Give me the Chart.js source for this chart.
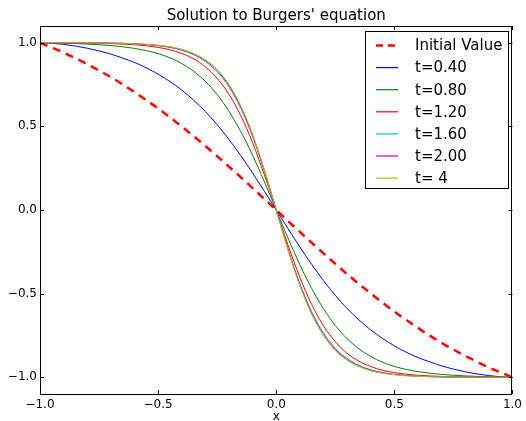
<!DOCTYPE html>
<html>
<head>
<meta charset="utf-8">
<script src="https://cdn.jsdelivr.net/npm/chart.js@4.4.1/dist/chart.umd.min.js"></script>
<style>
  html, body { margin: 0; padding: 0; background: #ffffff; }
  #wrap { width: 526px; height: 421px; position: relative; }
</style>
</head>
<body>
<div id="wrap"><canvas id="burgers"></canvas></div>
<script>
// x grid, -1 .. 1 step 0.05
const xs = [-1, -0.95, -0.9, -0.85, -0.8, -0.75, -0.7, -0.65, -0.6, -0.55, -0.5,
    -0.45, -0.4, -0.35, -0.3, -0.25, -0.2, -0.15, -0.1, -0.05, 0,
    0.05, 0.1, 0.15, 0.2, 0.25, 0.3, 0.35, 0.4, 0.45, 0.5,
    0.55, 0.6, 0.65, 0.7, 0.75, 0.8, 0.85, 0.9, 0.95, 1];

const initialValue = [1.000, 0.971, 0.941, 0.907, 0.872, 0.834, 0.794, 0.751, 0.705, 0.657, 0.607,
    0.554, 0.499, 0.442, 0.383, 0.322, 0.259, 0.196, 0.131, 0.066, 0,
    -0.066, -0.131, -0.196, -0.259, -0.322, -0.383, -0.442, -0.499, -0.554, -0.607,
    -0.657, -0.705, -0.751, -0.794, -0.834, -0.872, -0.907, -0.941, -0.971, -1.000];

const u040 = [1.000, 0.997, 0.990, 0.980, 0.967, 0.951, 0.932, 0.908, 0.882, 0.850, 0.812,
    0.768, 0.717, 0.657, 0.589, 0.510, 0.422, 0.325, 0.221, 0.112, 0,
    -0.112, -0.221, -0.325, -0.422, -0.510, -0.589, -0.657, -0.717, -0.768, -0.812,
    -0.850, -0.882, -0.908, -0.932, -0.951, -0.967, -0.980, -0.990, -0.997, -1.000];

const u080 = [1.000, 0.999, 0.997, 0.995, 0.992, 0.988, 0.983, 0.976, 0.966, 0.953, 0.935,
    0.910, 0.876, 0.830, 0.769, 0.690, 0.590, 0.469, 0.327, 0.168, 0,
    -0.168, -0.327, -0.469, -0.590, -0.690, -0.769, -0.830, -0.876, -0.910, -0.935,
    -0.953, -0.966, -0.976, -0.983, -0.988, -0.992, -0.995, -0.997, -0.999, -1.000];

const u120 = [1.000, 1.000, 0.999, 0.999, 0.998, 0.997, 0.995, 0.992, 0.988, 0.982, 0.972,
    0.958, 0.936, 0.904, 0.856, 0.787, 0.692, 0.564, 0.402, 0.210, 0,
    -0.210, -0.402, -0.564, -0.692, -0.787, -0.856, -0.904, -0.936, -0.958, -0.972,
    -0.982, -0.988, -0.992, -0.995, -0.997, -0.998, -0.999, -0.999, -1.000, -1.000];

const u160 = [1.000, 1.000, 1.000, 1.000, 0.999, 0.998, 0.997, 0.996, 0.993, 0.989, 0.982,
    0.971, 0.955, 0.928, 0.887, 0.826, 0.735, 0.607, 0.438, 0.231, 0,
    -0.231, -0.438, -0.607, -0.735, -0.826, -0.887, -0.928, -0.955, -0.971, -0.982,
    -0.989, -0.993, -0.996, -0.997, -0.998, -0.999, -1.000, -1.000, -1.000, -1.000];

const u200 = [1.000, 1.000, 1.000, 1.000, 0.999, 0.999, 0.998, 0.996, 0.994, 0.990, 0.984,
    0.974, 0.958, 0.933, 0.894, 0.834, 0.745, 0.617, 0.447, 0.236, 0,
    -0.236, -0.447, -0.617, -0.745, -0.834, -0.894, -0.933, -0.958, -0.974, -0.984,
    -0.990, -0.994, -0.996, -0.998, -0.999, -0.999, -1.000, -1.000, -1.000, -1.000];

const u400 = [1.000, 1.000, 1.000, 1.000, 0.999, 0.999, 0.998, 0.997, 0.994, 0.991, 0.985,
    0.976, 0.961, 0.936, 0.898, 0.840, 0.751, 0.624, 0.452, 0.239, 0,
    -0.239, -0.452, -0.624, -0.751, -0.840, -0.898, -0.936, -0.961, -0.976, -0.985,
    -0.991, -0.994, -0.997, -0.998, -0.999, -0.999, -1.000, -1.000, -1.000, -1.000];

const seriesLabels = ['Initial Value', 't=0.40', 't=0.80', 't=1.20', 't=1.60', 't=2.00', 't= 4'];
const seriesColors = ['#ff0000', '#0000ff', '#008000', '#ff0000', '#00bfbf', '#bf00bf', '#bfbf00'];
const seriesValues = [initialValue, u040, u080, u120, u160, u200, u400];

const xTicks = [-1, -0.5, 0, 0.5, 1];
const yTicks = [-1, -0.5, 0, 0.5, 1];

const FONT = '"DejaVu Sans", sans-serif';

function fmt(v) {
    const s = Math.abs(v).toFixed(1);
    return v < 0 ? '\u2212' + s : s;
}

/* ---------------------------
   FRAME, TICKS, TITLE, LEGEND
---------------------------*/
const decorPlugin = {
    id: 'decor',
    afterDatasetsDraw(chart) {
        const ctx = chart.ctx;
        const a = chart.chartArea;
        const xs_ = chart.scales.x, ys_ = chart.scales.y;
        ctx.save();
        ctx.strokeStyle = '#000';
        ctx.lineWidth = 1;
        ctx.strokeRect(Math.round(a.left) + 0.5, Math.round(a.top) + 0.5,
            Math.round(a.right - a.left) - 1, Math.round(a.bottom - a.top));

        // inward ticks on all four sides
        const tl = 4;
        ctx.beginPath();
        xTicks.forEach(v => {
            const px = Math.round(xs_.getPixelForValue(v)) + 0.5;
            ctx.moveTo(px, a.bottom); ctx.lineTo(px, a.bottom - tl);
            ctx.moveTo(px, a.top); ctx.lineTo(px, a.top + tl);
        });
        yTicks.forEach(v => {
            const py = Math.round(ys_.getPixelForValue(v)) + 0.5;
            ctx.moveTo(a.left, py); ctx.lineTo(a.left + tl, py);
            ctx.moveTo(a.right, py); ctx.lineTo(a.right - tl, py);
        });
        ctx.stroke();

        // title and axis label
        ctx.fillStyle = '#000';
        ctx.textAlign = 'center';
        ctx.textBaseline = 'alphabetic';
        ctx.font = '15px ' + FONT;
        ctx.fillText("Solution to Burgers' equation", (a.left + a.right) / 2, 20);
        ctx.font = '12px ' + FONT;
        ctx.fillText('x', (a.left + a.right) / 2, 420);

        // legend
        const bx = 365.5, by = 31.5, bw = 143, bh = 157;
        ctx.fillStyle = '#fff';
        ctx.fillRect(bx, by, bw, bh);
        ctx.strokeStyle = '#000';
        ctx.lineWidth = 1;
        ctx.strokeRect(bx, by, bw, bh);
        ctx.font = '15px ' + FONT;
        ctx.textAlign = 'left';
        ctx.textBaseline = 'middle';
        seriesLabels.forEach((lab, i) => {
            const y = 45.5 + i * 22.1;
            ctx.beginPath();
            ctx.strokeStyle = seriesColors[i];
            if (i === 0) {
                ctx.lineWidth = 2.5;
                ctx.setLineDash([7, 5]);
            } else {
                ctx.lineWidth = 1.2;
                ctx.setLineDash([]);
            }
            ctx.moveTo(376, y);
            ctx.lineTo(398, y);
            ctx.stroke();
            ctx.setLineDash([]);
            ctx.fillStyle = '#000';
            ctx.fillText(lab, 415, y + 1);
        });
        ctx.restore();
    }
};

/* ---------------------------
   CHART
---------------------------*/
function initializeChart() {
    const ctx = document.getElementById('burgers');

    const datasets = seriesValues.map((vals, i) => ({
        label: seriesLabels[i],
        data: xs.map((x, k) => ({ x: x, y: vals[k] })),
        borderColor: seriesColors[i],
        borderWidth: i === 0 ? 2.5 : 1,
        borderDash: i === 0 ? [8, 6] : [],
        pointRadius: 0,
        fill: false,
        cubicInterpolationMode: 'monotone',
        order: seriesValues.length - i
    }));

    return new Chart(ctx, {
        type: 'line',
        data: { datasets: datasets },
        options: {
            responsive: false,
            animation: false,
            devicePixelRatio: 1,
            layout: { padding: { left: 0, right: 12, top: 26, bottom: 0 }, autoPadding: false },
            plugins: {
                legend: { display: false },
                tooltip: { enabled: false },
                title: { display: false }
            },
            scales: {
                x: {
                    type: 'linear',
                    min: -1,
                    max: 1,
                    grid: { display: false, drawTicks: false },
                    border: { display: false },
                    afterBuildTicks: s => { s.ticks = xTicks.map(v => ({ value: v })); },
                    afterFit: s => { s.height = 27; },
                    ticks: {
                        color: '#000',
                        padding: 4,
                        maxRotation: 0,
                        autoSkip: false,
                        font: { family: FONT, size: 12 },
                        callback: v => fmt(v)
                    }
                },
                y: {
                    type: 'linear',
                    min: -1.1,
                    max: 1.1,
                    grid: { display: false, drawTicks: false },
                    border: { display: false },
                    afterBuildTicks: s => { s.ticks = yTicks.map(v => ({ value: v })); },
                    afterFit: s => { s.width = 40; },
                    ticks: {
                        color: '#000',
                        padding: 3,
                        autoSkip: false,
                        font: { family: FONT, size: 12 },
                        callback: v => fmt(v)
                    }
                }
            }
        },
        plugins: [decorPlugin]
    });
}

const cv = document.getElementById('burgers');
cv.width = 526;
cv.height = 421;
cv.style.width = '526px';
cv.style.height = '421px';
initializeChart();
</script>
</body>
</html>
